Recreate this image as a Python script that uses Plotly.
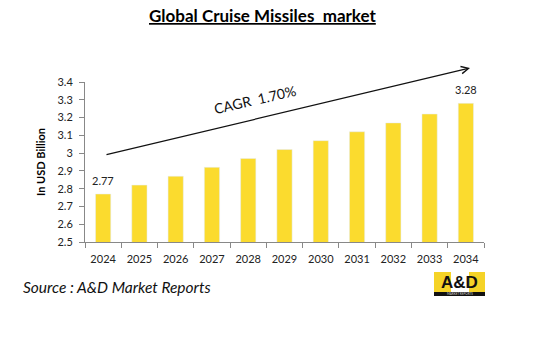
import plotly.graph_objects as go

years = ["2024", "2025", "2026", "2027", "2028", "2029", "2030", "2031", "2032", "2033", "2034"]
values = [2.77, 2.82, 2.87, 2.92, 2.97, 3.02, 3.07, 3.12, 3.17, 3.22, 3.28]
y_ticks = [2.5, 2.6, 2.7, 2.8, 2.9, 3.0, 3.1, 3.2, 3.3, 3.4]
y_tick_text = ["2.5", "2.6", "2.7", "2.8", "2.9", "3", "3.1", "3.2", "3.3", "3.4"]
title = "Global Cruise Missiles  market"
cagr = "CAGR  1.70%"

W, H = 538, 339
L, R, T, B = 85, 484, 82, 242

fig = go.Figure()
fig.add_trace(go.Bar(x=years, y=values, marker_color="#FBDB2E", width=0.42,
                     hoverinfo="skip"))

fig.update_layout(
    width=W, height=H, autosize=False,
    margin=dict(l=L, r=W - R, t=T, b=H - B, pad=0),
    paper_bgcolor="white", plot_bgcolor="white",
    showlegend=False,
    font=dict(family="Lato, Open Sans, sans-serif", color="#333"),
)
fig.update_xaxes(type="category", categoryorder="array", categoryarray=years,
                 range=[-0.5, len(years) - 0.5], tickangle=0,
                 showline=True, linecolor="#888", linewidth=1,
                 ticks="outside", ticklen=5, tickcolor="#888", tickson="boundaries",
                 ticklabelstandoff=7,
                 tickfont=dict(size=11, color="#222"), showgrid=False, fixedrange=True)
fig.update_yaxes(range=[2.5, 3.4], tickvals=y_ticks, ticktext=y_tick_text,
                 showline=True, linecolor="#888", linewidth=1, ticks="outside",
                 ticklen=5, tickcolor="#888", showgrid=False, zeroline=False,
                 ticklabelstandoff=4,
                 tickfont=dict(size=11, color="#222"), fixedrange=True)


def px_x(x):
    return (x - L) / (R - L)


def px_y(y):
    return (B - y) / (B - T)


# Data labels for first and last bars
for i in (0, len(values) - 1):
    fig.add_annotation(xref="x", yref="y", x=i, y=values[i],
                       text=f"{values[i]:.2f}", showarrow=False,
                       yanchor="bottom", yshift=5, font=dict(size=11, color="#222"))

# Title
fig.add_annotation(xref="paper", yref="paper", x=px_x(262), y=px_y(15),
                   text=f"<b><u>{title}</u></b>", showarrow=False,
                   font=dict(size=17, color="#000"), xanchor="center", yanchor="middle")

# Y axis title
fig.add_annotation(xref="paper", yref="paper", x=px_x(40), y=px_y(162),
                   text="<b>In USD Billion</b>", textangle=-90, showarrow=False,
                   font=dict(size=11, color="#000"), xanchor="center", yanchor="middle")

# CAGR arrow
fig.add_annotation(xref="paper", yref="paper", x=px_x(470), y=px_y(68),
                   ax=105 - 470, ay=155 - 68,
                   showarrow=True, arrowhead=5, arrowsize=1.2, arrowwidth=1.2,
                   arrowcolor="#111", text="")
fig.add_annotation(xref="paper", yref="paper", x=px_x(255), y=px_y(99),
                   text=cagr, textangle=-13, showarrow=False,
                   font=dict(size=14, color="#111"), xanchor="center", yanchor="middle")

# Source
fig.add_annotation(xref="paper", yref="paper", x=px_x(21), y=px_y(287),
                   text="<i>Source : A&D Market Reports</i>", showarrow=False,
                   font=dict(size=15.5, color="#111"), xanchor="left", yanchor="middle")

# Logo
fig.add_shape(type="rect", xref="paper", yref="paper",
              x0=px_x(434), x1=px_x(485), y0=px_y(295), y1=px_y(272),
              fillcolor="#F5D327", line_width=0, layer="above")
fig.add_shape(type="rect", xref="paper", yref="paper",
              x0=px_x(451), x1=px_x(469), y0=px_y(292), y1=px_y(272),
              fillcolor="#FFFFFF", line_width=0, layer="above")
fig.add_shape(type="rect", xref="paper", yref="paper",
              x0=px_x(434), x1=px_x(485), y0=px_y(296), y1=px_y(292),
              fillcolor="#111111", line_width=0, layer="above")
fig.add_annotation(xref="paper", yref="paper", x=px_x(459.5), y=px_y(282),
                   text="<b>A&amp;D</b>", showarrow=False,
                   font=dict(size=17, color="#111", family="Liberation Sans, Arial"),
                   xanchor="center", yanchor="middle")
fig.add_annotation(xref="paper", yref="paper", x=px_x(459.5), y=px_y(294),
                   text="MARKET REPORTS", showarrow=False,
                   font=dict(size=3, color="#ddd"), xanchor="center", yanchor="middle")

fig.write_html("out.html", config={"displayModeBar": False})
